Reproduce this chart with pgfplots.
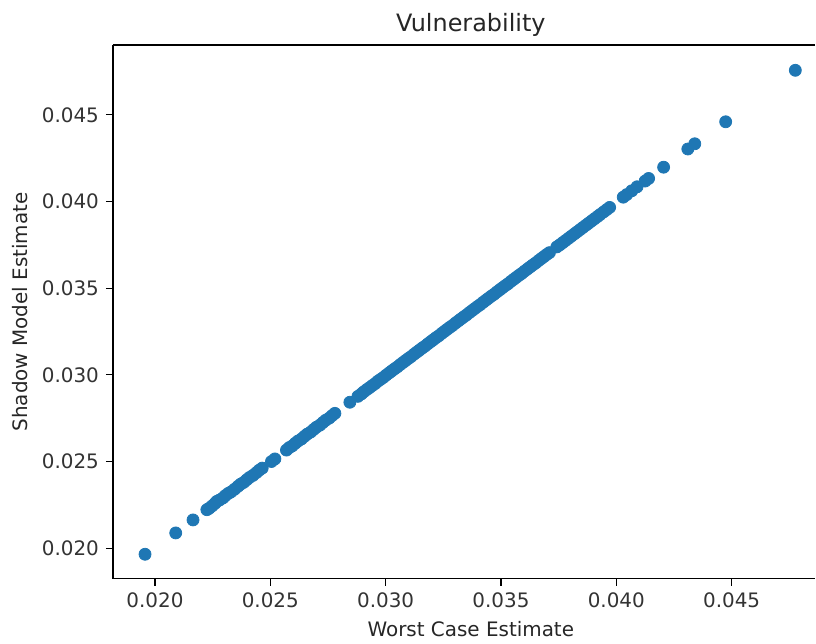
\documentclass[border=0pt]{standalone}
\usepackage{fontspec}
\setmainfont{DejaVu Sans}
\usepackage{pgfplots}
\pgfplotsset{compat=1.18}
\usepackage{pgfplotstable}
\definecolor{mplblue}{HTML}{1F77B4}

% worst case estimate vs shadow model estimate
\pgfplotstableread{
x y
0.01957 0.01965
0.02090 0.02088
0.02165 0.02163
0.02225 0.02222
0.02235 0.02230
0.02248 0.02244
0.02260 0.02258
0.02268 0.02270
0.02280 0.02278
0.02295 0.02290
0.02305 0.02303
0.02318 0.02316
0.02330 0.02325
0.02345 0.02340
0.02360 0.02357
0.02372 0.02370
0.02385 0.02380
0.02398 0.02395
0.02410 0.02408
0.02425 0.02420
0.02440 0.02436
0.02452 0.02450
0.02465 0.02462
0.02505 0.02500
0.02520 0.02515
0.02570 0.02566
0.02582 0.02580
0.02595 0.02590
0.02608 0.02605
0.02620 0.02618
0.02635 0.02630
0.02648 0.02645
0.02660 0.02658
0.02675 0.02670
0.02688 0.02685
0.02700 0.02698
0.02715 0.02710
0.02728 0.02725
0.02740 0.02738
0.02755 0.02750
0.02768 0.02765
0.02780 0.02778
0.02845 0.02842
0.02880 0.02876
0.02895 0.02890
0.02905 0.02902
0.02918 0.02915
0.02930 0.02926
0.02942 0.02938
0.02955 0.02950
0.02966 0.02963
0.02978 0.02974
0.02990 0.02985
0.03002 0.02998
0.03015 0.03011
0.03026 0.03022
0.03038 0.03034
0.03050 0.03045
0.03063 0.03059
0.03075 0.03071
0.03086 0.03082
0.03098 0.03094
0.03110 0.03105
0.03123 0.03119
0.03135 0.03131
0.03146 0.03142
0.03158 0.03154
0.03170 0.03165
0.03183 0.03179
0.03195 0.03191
0.03206 0.03202
0.03218 0.03214
0.03230 0.03225
0.03243 0.03239
0.03255 0.03251
0.03266 0.03262
0.03278 0.03274
0.03290 0.03285
0.03303 0.03299
0.03315 0.03311
0.03326 0.03322
0.03338 0.03334
0.03350 0.03345
0.03363 0.03359
0.03375 0.03371
0.03386 0.03382
0.03398 0.03394
0.03410 0.03405
0.03423 0.03419
0.03435 0.03431
0.03446 0.03442
0.03458 0.03454
0.03470 0.03465
0.03483 0.03479
0.03495 0.03491
0.03506 0.03502
0.03518 0.03514
0.03530 0.03525
0.03543 0.03539
0.03555 0.03551
0.03566 0.03562
0.03578 0.03574
0.03590 0.03585
0.03603 0.03599
0.03615 0.03611
0.03626 0.03622
0.03638 0.03634
0.03650 0.03645
0.03663 0.03659
0.03675 0.03671
0.03686 0.03682
0.03698 0.03694
0.03710 0.03705
0.03742 0.03738
0.03755 0.03750
0.03768 0.03763
0.03780 0.03775
0.03793 0.03788
0.03805 0.03800
0.03818 0.03813
0.03830 0.03825
0.03843 0.03838
0.03855 0.03850
0.03868 0.03863
0.03880 0.03875
0.03893 0.03888
0.03905 0.03900
0.03918 0.03913
0.03930 0.03925
0.03945 0.03940
0.03958 0.03953
0.03971 0.03966
0.04030 0.04025
0.04045 0.04040
0.04067 0.04062
0.04090 0.04085
0.04125 0.04118
0.04140 0.04133
0.04205 0.04198
0.04310 0.04303
0.04340 0.04333
0.04474 0.04460
0.04776 0.04757
}\vuldata

\begin{document}
\begin{tikzpicture}
% fixed frame: the reference is cut off at the right, past the last point
\path (-56.5bp,-31bp) rectangle (351.5bp,289.5bp);
\begin{axis}[
    at={(0,0)}, anchor=south west,
    scale only axis,
    width=351.3bp, height=267bp,
    xmin=0.01818, xmax=0.04863,
    ymin=0.01823, ymax=0.04903,
    xtick={0.020,0.025,0.030,0.035,0.040,0.045},
    ytick={0.020,0.025,0.030,0.035,0.040,0.045},
    scaled ticks=false,
    /pgf/number format/.cd, fixed, fixed zerofill, precision=3, assume math mode=true,
    /pgfplots/.cd,
    axis lines*=left,
    tick align=outside,
    major tick length=3.5bp,
    tick style={black, line width=0.6bp},
    axis line style={black, line width=0.6bp},
    ticklabel style={font=\fontsize{10}{12}\selectfont, text=black!80},
    label style={font=\fontsize{10}{12}\selectfont, text=black!85},
    xlabel={Worst Case Estimate},
    xlabel style={xshift=3.3bp},
    ylabel={Shadow Model Estimate},
    title={Vulnerability},
    every axis title/.style={font=\fontsize{12}{14}\selectfont, text=black!85, at={(0.5,1)}, anchor=base, yshift=6.5bp, xshift=3.3bp},
    after end axis/.code={\draw[black, line width=0.6bp] (rel axis cs:0,1) -- (rel axis cs:1,1);},
]
\addplot[only marks, mark=*, mark size=3bp, mplblue, mark options={draw=mplblue, fill=mplblue}]
    table[x=x, y=y] {\vuldata};
\end{axis}
\end{tikzpicture}
\end{document}
